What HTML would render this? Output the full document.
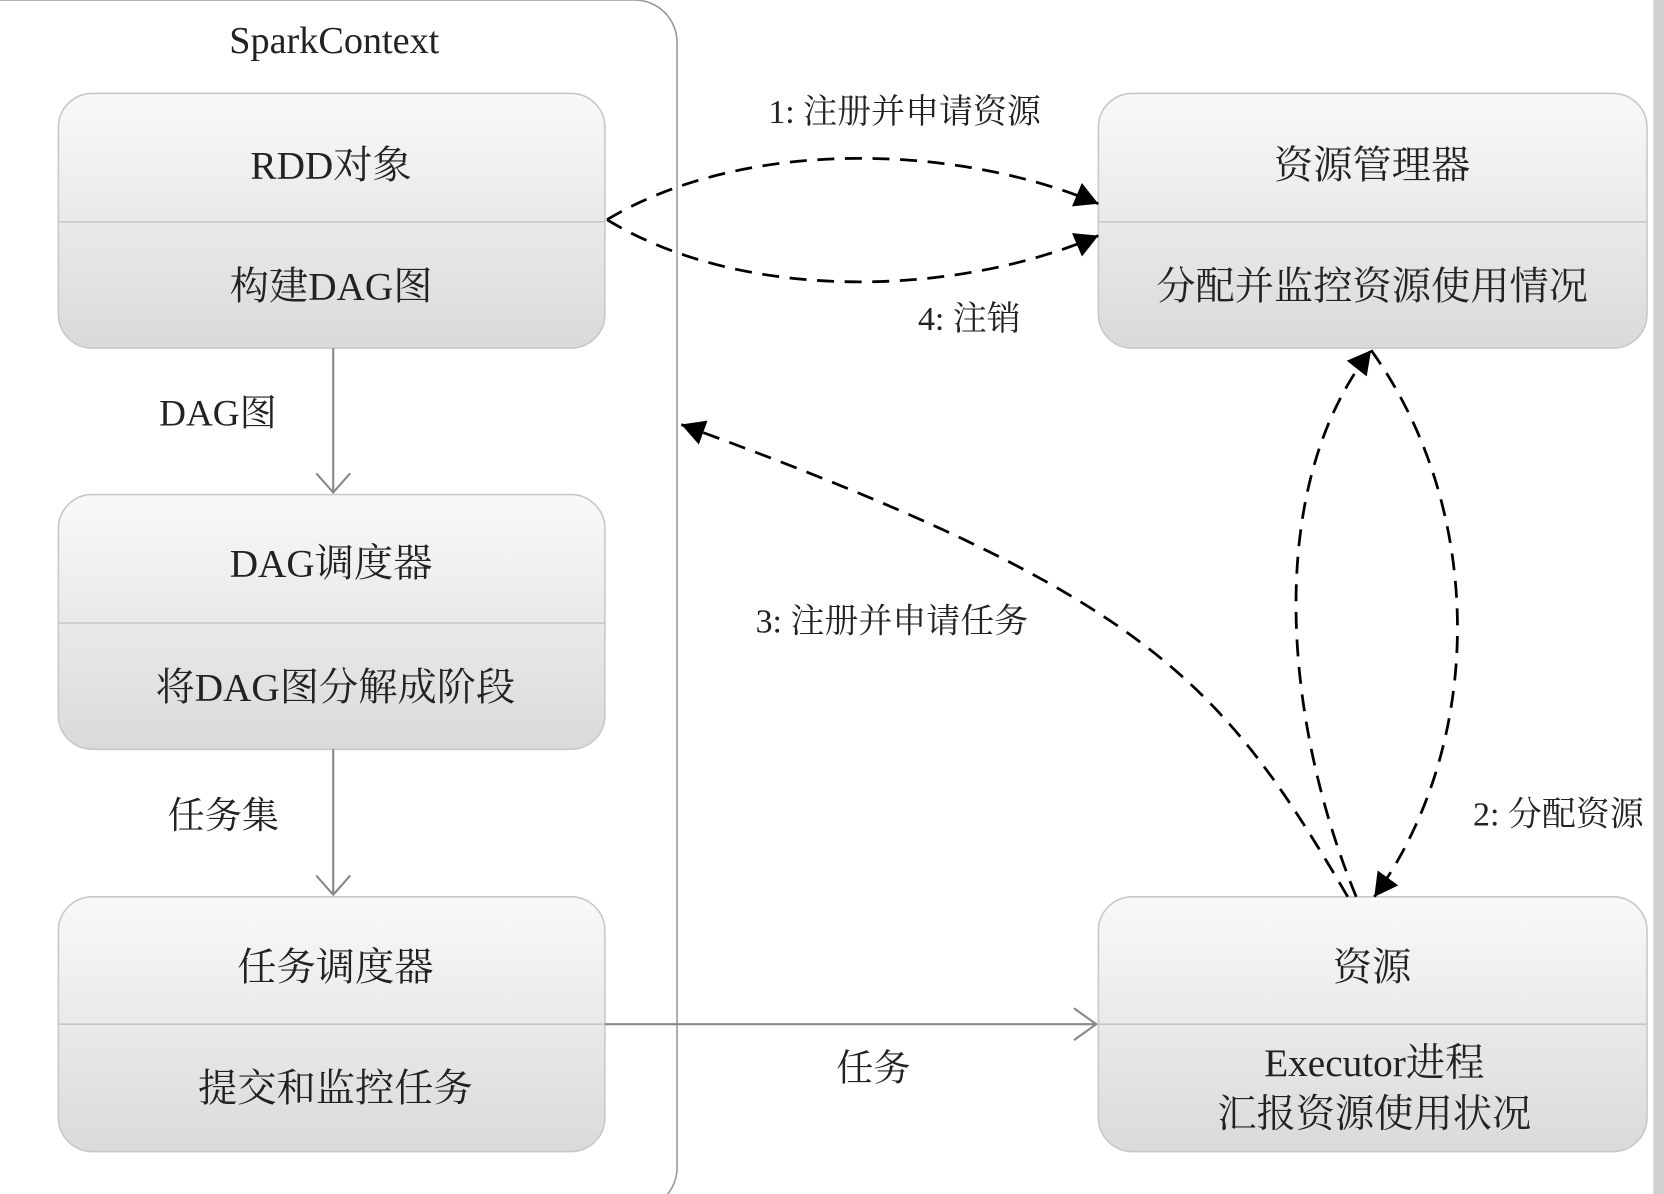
<!DOCTYPE html>
<html><head><meta charset="utf-8"><style>
html,body{margin:0;padding:0;background:#fff;}
svg{display:block;}
text{font-family:"Liberation Serif","Noto Serif CJK SC",serif;fill:#222;}
</style></head><body>
<svg width="1664" height="1194" viewBox="0 0 1568 1125" preserveAspectRatio="none" xmlns="http://www.w3.org/2000/svg">
<defs>
<linearGradient id="g" x1="0" y1="0" x2="0" y2="1">
<stop offset="0" stop-color="#f9f9f9"/><stop offset="1" stop-color="#dadada"/>
</linearGradient>
<marker id="ah2" markerWidth="24" markerHeight="24" refX="22" refY="12" orient="auto" markerUnits="userSpaceOnUse" viewBox="0 0 24 24">
<path d="M0,0 L22,12 L0,24 z" fill="#000"/>
</marker>
</defs>
<rect x="-40" y="0" width="678" height="1140" rx="40" fill="#fff" stroke="#999" stroke-width="1.5"/>
<rect x="1558" y="0" width="10" height="1125" fill="#d0d0d0"/>
<text x="315" y="50" font-size="36" text-anchor="middle">SparkContext</text>

<g stroke="#c8c8c8" stroke-width="1.5">
<rect x="55" y="88" width="515" height="240" rx="32" fill="url(#g)"/>
<line x1="55" y1="209" x2="570" y2="209"/>
<rect x="55" y="466" width="515" height="240" rx="32" fill="url(#g)"/>
<line x1="55" y1="587" x2="570" y2="587"/>
<rect x="55" y="845" width="515" height="240" rx="32" fill="url(#g)"/>
<line x1="55" y1="965" x2="570" y2="965"/>
<rect x="1035" y="88" width="517" height="240" rx="32" fill="url(#g)"/>
<line x1="1035" y1="209" x2="1552" y2="209"/>
<rect x="1035" y="845" width="517" height="240" rx="32" fill="url(#g)"/>
<line x1="1035" y1="965" x2="1552" y2="965"/>
</g>

<g font-size="37" text-anchor="middle">
<text x="312" y="168">RDD对象</text>
<text x="312" y="282">构建DAG图</text>
<text x="312" y="543">DAG调度器</text>
<text x="316" y="660">将DAG图分解成阶段</text>
<text x="316" y="924">任务调度器</text>
<text x="316" y="1038">提交和监控任务</text>
<text x="1293" y="168">资源管理器</text>
<text x="1293" y="282">分配并监控资源使用情况</text>
<text x="1293" y="924">资源</text>
<text x="1295" y="1014">Executor进程</text>
<text x="1295" y="1062">汇报资源使用状况</text>
</g>

<g font-size="35">
<text x="150" y="401">DAG图</text>
<text x="158" y="780">任务集</text>
<text x="788" y="1018">任务</text>
</g>
<g font-size="32">
<text x="724" y="116">1: 注册并申请资源</text>
<text x="865" y="311">4: 注销</text>
<text x="712" y="596">3: 注册并申请任务</text>
<text x="1388" y="778">2: 分配资源</text>
</g>

<g stroke="#888" stroke-width="2" fill="none">
<line x1="314" y1="328" x2="314" y2="464"/>
<path d="M298,446 L314,464 L330,446"/>
<line x1="314" y1="706" x2="314" y2="843"/>
<path d="M298,825 L314,843 L330,825"/>
<line x1="570" y1="965" x2="1033" y2="965"/>
<path d="M1012,950 L1033,965 L1012,980"/>
</g>

<g stroke="#000" stroke-width="2.6" fill="none" stroke-dasharray="16,10">
<path d="M572,207 C700,130 900,135 1035,192" marker-end="url(#ah2)"/>
<path d="M572,207 C700,285 900,280 1035,222" marker-end="url(#ah2)"/>
<path d="M1270,845 C1150,640 1080,560 642,400" marker-end="url(#ah2)"/>
<path d="M1278,845 C1210,680 1190,460 1292,330" marker-end="url(#ah2)"/>
<path d="M1292,330 C1400,480 1400,700 1295,845" marker-end="url(#ah2)"/>
</g>
</svg>
</body></html>
